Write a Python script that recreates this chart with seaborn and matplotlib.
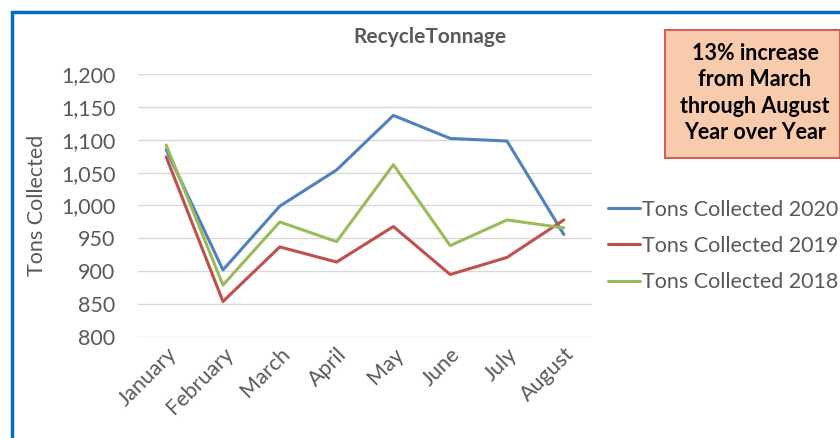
import pandas as pd
import matplotlib
matplotlib.use('Agg')
import matplotlib.pyplot as plt
import seaborn as sns
from matplotlib.patches import Rectangle

meses = ['January', 'February', 'March', 'April', 'May', 'June', 'July', 'August']
tons_2020 = [1085, 902, 999, 1054, 1137, 1102, 1098, 956]
tons_2019 = [1074, 854, 937, 914, 968, 895, 921, 978]
tons_2018 = [1092, 879, 975, 945, 1062, 939, 978, 966]
series = ['Tons Collected 2020', 'Tons Collected 2019', 'Tons Collected 2018']
cores = ['#4F81BD', '#C0504D', '#9BBB59']

dados = pd.DataFrame({
    'mes': meses * 3,
    'tons': tons_2020 + tons_2019 + tons_2018,
    'serie': [s for s in series for _ in meses],
})
dados['pos'] = dados['mes'].map({m: i for i, m in enumerate(meses)})

sns.set_style('white')
plt.rcParams['font.family'] = ['Lato', 'DejaVu Sans']

fig = plt.figure(figsize=(8.4, 4.38), dpi=100)
ax = fig.add_axes([0.164, 0.2306, 0.541, 0.6005])

sns.lineplot(data=dados, x='pos', y='tons', hue='serie', hue_order=series,
             palette=cores, linewidth=2.2, ax=ax, legend=False, sort=False)

ax.set_xlim(-0.5, len(meses) - 0.5)
ax.set_ylim(800, 1200)
ax.set_yticks(range(800, 1201, 50))
ax.set_yticklabels([f'{v:,}' for v in range(800, 1201, 50)])
ax.set_xticks(range(len(meses)))
ax.set_xticklabels(meses, rotation=45, ha='right', rotation_mode='anchor')
ax.grid(axis='y', color='#D9D9D9', linewidth=1)
ax.set_axisbelow(True)
for s in ax.spines.values():
    s.set_visible(False)
ax.tick_params(axis='both', length=0, labelsize=15.5, colors='#595959')
ax.tick_params(axis='y', pad=16)
ax.tick_params(axis='x', pad=5)
ax.set_xlabel('')
ax.set_ylabel('Tons Collected', fontsize=15.5, color='#595959', labelpad=10)

fig.text(0.512, 0.915, 'RecycleTonnage', ha='center', va='center',
         fontsize=15, fontweight='bold', color='#595959')

# legenda
handles = [plt.Line2D([], [], color=c, linewidth=2.2) for c in cores]
fig.legend(handles, series, loc='center left', bbox_to_anchor=(608 / 840, 1 - 246 / 438),
           frameon=False, fontsize=15.5, handlelength=1.5, handletextpad=0.1,
           labelspacing=0.75, labelcolor='#595959', borderpad=0, borderaxespad=0)

# caixa de texto
fig.patches.append(Rectangle((665 / 840, 1 - 158 / 438), 175 / 840, 128 / 438,
                             transform=fig.transFigure, facecolor='#F8CBAD',
                             edgecolor='#D0605A', linewidth=1.5))
fig.text(755 / 840, 1 - 93 / 438, '13% increase\nfrom March\nthrough August\nYear over Year',
         ha='center', va='center', fontsize=15.5, fontweight='bold', color='black',
         linespacing=1.3)

# borda azul
fig.patches.append(Rectangle((11.5 / 840, -0.05), 1.1, 1 - 11.5 / 438 + 0.05,
                             transform=fig.transFigure, facecolor='none',
                             edgecolor='#0070C0', linewidth=2.5))

fig.savefig('out.png', dpi=100)
